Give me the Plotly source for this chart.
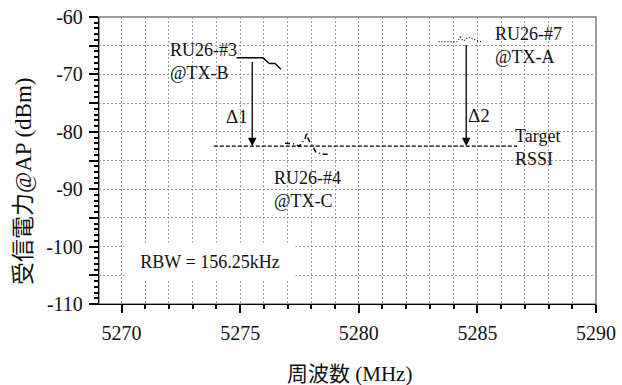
import plotly.graph_objects as go

# ---- data -------------------------------------------------------------
# RU26-#3 received at TX-B (solid)
ru3_freq = [5274.85, 5275.95, 5276.23, 5276.47, 5276.72]
ru3_rssi = [-67.1, -67.1, -68.1, -68.1, -69.1]

# RU26-#7 received at TX-A (dotted)
ru7_freq = [5283.36, 5284.14, 5284.27, 5284.41, 5284.62, 5284.84, 5285.05, 5285.16]
ru7_rssi = [-64.3, -64.3, -63.5, -64.2, -63.5, -63.9, -64.2, -64.3]

# RU26-#4 received at TX-C (dash-dot)
ru4_freq = [5276.89, 5277.10, 5277.24, 5277.49, 5277.73, 5277.81, 5277.87,
            5278.02, 5278.20, 5278.44, 5278.76]
ru4_rssi = [-82.0, -82.0, -82.1, -82.5, -81.3, -80.1, -81.3,
            -82.3, -83.6, -83.9, -83.9]

# target RSSI level and its frequency span
target_rssi = -82.5
target_span = [5273.89, 5286.67]

# delta arrows: frequency, start level
delta_freq = [5275.51, 5284.53]
delta_start = [-67.6, -64.6]
delta_names = ["Δ1", "Δ2"]

x_range = [5269.05, 5290]
y_range = [-110, -60]
y_tickvals = list(range(-110, -55, 5))
y_ticktext = [str(v) if v % 10 == 0 else "" for v in y_tickvals]

SERIF = "Times New Roman, Liberation Serif, serif"
CJK = "Times New Roman, Liberation Serif, Noto Sans CJK JP, serif"
TXT = "#111111"
GRID = "#9a9a9a"

fig = go.Figure()

fig.add_trace(go.Scatter(x=target_span, y=[target_rssi, target_rssi], mode="lines",
                         line=dict(color="black", width=1.2, dash="4px,2px"),
                         hoverinfo="skip"))
fig.add_trace(go.Scatter(x=ru3_freq, y=ru3_rssi, mode="lines",
                         line=dict(color="black", width=1.3), name="RU26-#3"))
fig.add_trace(go.Scatter(x=ru7_freq, y=ru7_rssi, mode="lines",
                         line=dict(color="black", width=1.2, dash="1px,2px"), name="RU26-#7"))
fig.add_trace(go.Scatter(x=ru4_freq, y=ru4_rssi, mode="lines",
                         line=dict(color="black", width=1.5, dash="5px,3px,1px,3px"),
                         name="RU26-#4"))

ann = []
# delta arrows down to the target level
for f, s in zip(delta_freq, delta_start):
    ann.append(dict(x=f, y=target_rssi, ax=f, ay=s, xref="x", yref="y",
                    axref="x", ayref="y", text="", showarrow=True,
                    arrowhead=2, arrowsize=1.3, arrowwidth=1.3, arrowcolor="black"))

ann.append(dict(x=5274.86, y=-77.4, text=delta_names[0], showarrow=False,
                font=dict(family=SERIF, size=19, color=TXT)))
ann.append(dict(x=5285.05, y=-77.1, text=delta_names[1], showarrow=False,
                font=dict(family=SERIF, size=19, color=TXT)))

labels = [
    (5271.95, -67.7, "RU26-#3<br>@TX-B"),
    (5285.67, -65.05, "RU26-#7<br>@TX-A"),
    (5286.51, -82.75, "Target<br>RSSI"),
    (5276.34, -90.05, "RU26-#4<br>@TX-C"),
]
for x, y, t in labels:
    ann.append(dict(x=x, y=y, text=t, showarrow=False, xanchor="left", yanchor="middle",
                    align="left", font=dict(family=SERIF, size=18, color=TXT)))

ann.append(dict(x=5273.73, y=-102.6, text="RBW = 156.25kHz", showarrow=False,
                bgcolor="white", width=166, height=33, borderpad=2,
                font=dict(family=SERIF, size=18, color=TXT)))

# axis titles
ann.append(dict(x=-0.152, y=0.43, xref="paper", yref="paper", text="受信電力@AP (dBm)",
                textangle=-90, showarrow=False, xanchor="center", yanchor="middle",
                font=dict(family=CJK, size=23, color=TXT)))
ann.append(dict(x=0.505, y=-0.244, xref="paper", yref="paper", text="周波数 (MHz)",
                showarrow=False, xanchor="center", yanchor="middle",
                font=dict(family=CJK, size=21, color=TXT)))

fig.update_layout(
    width=622, height=385,
    margin=dict(l=99, r=26, t=17, b=81, autoexpand=False),
    paper_bgcolor="white", plot_bgcolor="white",
    showlegend=False,
    annotations=ann,
    shapes=[dict(type="rect", xref="paper", yref="paper", x0=0, x1=1, y0=0, y1=1,
                 line=dict(color="#808080", width=1.5), layer="below")],
    xaxis=dict(
        range=x_range, tick0=5270, dtick=5, automargin=False,
        showline=True, linecolor="black", linewidth=1.3,
        ticks="outside", ticklen=8, tickwidth=2, tickcolor="black",
        showgrid=True, gridcolor=GRID, griddash="2px,2px", gridwidth=1,
        zeroline=False, ticklabelstandoff=3,
        tickfont=dict(family=SERIF, size=20, color=TXT),
        minor=dict(dtick=1, tick0=5270, ticks="outside", ticklen=4, tickcolor="black",
                   showgrid=True, gridcolor=GRID, griddash="2px,2px", gridwidth=1),
    ),
    xaxis2=dict(
        range=x_range, overlaying="x", anchor="y", side="bottom", automargin=False,
        tickvals=list(range(5270, 5291)), ticks="inside", ticklen=4, tickcolor="black",
        showticklabels=False, showgrid=False, showline=False, zeroline=False,
    ),
    yaxis=dict(
        range=y_range, tickvals=y_tickvals, ticktext=y_ticktext, automargin=False,
        showline=True, linecolor="black", linewidth=1.3,
        ticks="outside", ticklen=9, tickwidth=1.5, tickcolor="black",
        showgrid=True, gridcolor=GRID, griddash="2px,2px", gridwidth=1,
        zeroline=False, ticklabelstandoff=2,
        tickfont=dict(family=SERIF, size=20, color=TXT),
        minor=dict(dtick=1, tick0=-110, ticks="outside", ticklen=4, tickcolor="black",
                   showgrid=False),
    ),
    yaxis2=dict(
        range=y_range, overlaying="y", anchor="x", side="left", automargin=False,
        tickvals=y_tickvals, ticks="inside", ticklen=9, tickwidth=1.5, tickcolor="black",
        showticklabels=False, showgrid=False, showline=False, zeroline=False,
        minor=dict(dtick=1, tick0=-110, ticks="inside", ticklen=4, tickcolor="black"),
    ),
)

fig.write_html("out.html")
